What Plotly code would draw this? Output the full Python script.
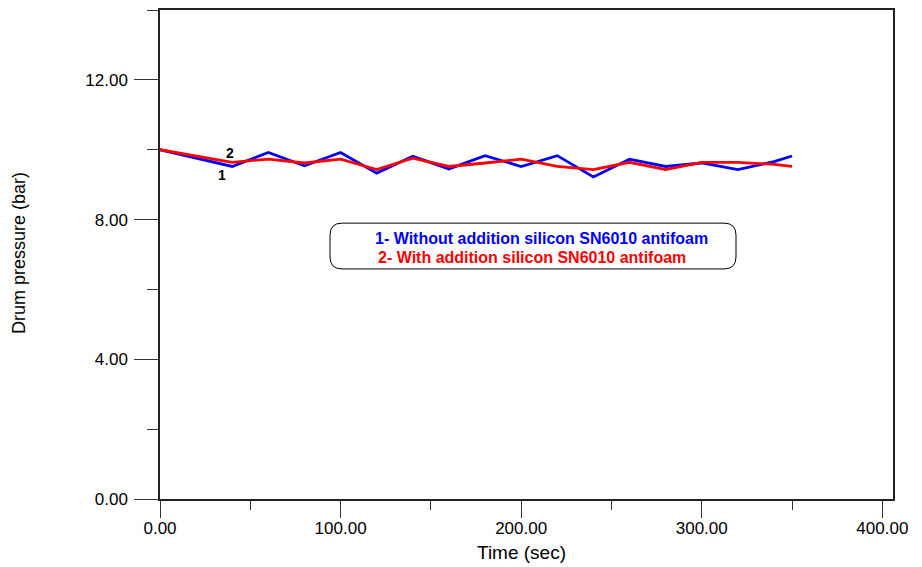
import plotly.graph_objects as go

# Data
time_s = [0, 40, 60, 80, 100, 120, 140, 160, 180, 200, 220, 240, 260, 280, 300, 320, 340, 350]
without_antifoam = [10.0, 9.52, 9.92, 9.54, 9.92, 9.33, 9.81, 9.45, 9.83, 9.52, 9.83, 9.22, 9.73, 9.52, 9.62, 9.43, 9.66, 9.82]
with_antifoam = [10.0, 9.64, 9.73, 9.62, 9.73, 9.43, 9.76, 9.52, 9.62, 9.73, 9.52, 9.43, 9.64, 9.43, 9.64, 9.64, 9.58, 9.52]

x_ticks = [0, 100, 200, 300, 400]
x_tick_text = ["0.00", "100.00", "200.00", "300.00", "400.00"]
y_ticks = [0, 4, 8, 12]
y_tick_text = ["0.00", "4.00", "8.00", "12.00"]

legend_line1 = "1- Without addition silicon SN6010 antifoam"
legend_line2 = "2- With addition silicon SN6010 antifoam"

W, H = 922, 567
ML, MR, MT, MB = 160, 29, 8, 68
plot_w = W - ML - MR
plot_h = H - MT - MB
X_MAX = 405.9
Y_MAX = 14.0

def px_to_x(px):
    return (px - ML) / plot_w * X_MAX

def py_to_y(py):
    return (H - MB - py) / plot_h * Y_MAX

fig = go.Figure()
fig.add_trace(go.Scatter(x=time_s, y=without_antifoam, mode="lines",
                         line=dict(color="#0000ff", width=2.8), showlegend=False))
fig.add_trace(go.Scatter(x=time_s, y=with_antifoam, mode="lines",
                         line=dict(color="#ff0000", width=2.8), showlegend=False))

# Rounded legend box
x0, x1 = px_to_x(330), px_to_x(736)
y0, y1 = py_to_y(268), py_to_y(222)
rx = 12 / plot_w * X_MAX
ry = 12 / plot_h * Y_MAX
path = (f"M {x0+rx},{y1} L {x1-rx},{y1} Q {x1},{y1} {x1},{y1-ry} "
        f"L {x1},{y0+ry} Q {x1},{y0} {x1-rx},{y0} L {x0+rx},{y0} "
        f"Q {x0},{y0} {x0},{y0+ry} L {x0},{y1-ry} Q {x0},{y1} {x0+rx},{y1} Z")
fig.add_shape(type="path", path=path, line=dict(color="black", width=1), xref="x", yref="y")

font_family = "Arial, Liberation Sans, sans-serif"
fig.add_annotation(x=px_to_x(541), y=py_to_y(237), text=f"<b>{legend_line1}</b>", showarrow=False,
                   font=dict(family=font_family, size=16, color="#0000ff"), xanchor="center", yanchor="middle")
fig.add_annotation(x=px_to_x(532), y=py_to_y(257), text=f"<b>{legend_line2}</b>", showarrow=False,
                   font=dict(family=font_family, size=16, color="#ff0000"), xanchor="center", yanchor="middle")

# Curve labels
fig.add_annotation(x=px_to_x(230), y=py_to_y(152), text="<b>2</b>", showarrow=False,
                   font=dict(family=font_family, size=14, color="black"))
fig.add_annotation(x=px_to_x(222), y=py_to_y(174), text="<b>1</b>", showarrow=False,
                   font=dict(family=font_family, size=14, color="black"))

# Axis titles
fig.add_annotation(xref="paper", yref="paper", x=(19 - ML) / plot_w, y=(H - MB - 252) / plot_h,
                   text="Drum pressure (bar)", textangle=-90, showarrow=False,
                   font=dict(family=font_family, size=18, color="black"),
                   xanchor="center", yanchor="middle")
fig.add_annotation(xref="paper", yref="paper", x=(521 - ML) / plot_w, y=(H - MB - 553) / plot_h,
                   text="Time (sec)", showarrow=False,
                   font=dict(family=font_family, size=19, color="black"),
                   xanchor="center", yanchor="middle")

tick_font = dict(family=font_family, size=17, color="black")
fig.update_xaxes(range=[0, X_MAX], tickmode="array", tickvals=x_ticks, ticktext=x_tick_text,
                 ticks="outside", ticklen=17, tickcolor="#333", tickwidth=1,
                 minor=dict(tickmode="array", tickvals=[50, 150, 250, 350], ticks="outside",
                            ticklen=9, tickcolor="#333", tickwidth=1),
                 showline=True, linecolor="#222", linewidth=1.5, mirror=True,
                 showgrid=False, zeroline=False, tickfont=tick_font, ticklabelstandoff=-4)
fig.update_yaxes(range=[0, Y_MAX], tickmode="array", tickvals=y_ticks, ticktext=y_tick_text,
                 ticks="outside", ticklen=24, tickcolor="#333", tickwidth=1,
                 minor=dict(tickmode="array", tickvals=[2, 6, 10, 14], ticks="outside",
                            ticklen=11, tickcolor="#333", tickwidth=1),
                 showline=True, linecolor="#222", linewidth=1.5, mirror=True,
                 showgrid=False, zeroline=False, tickfont=tick_font, ticklabelstandoff=3)

fig.update_layout(width=W, height=H, margin=dict(l=ML, r=MR, t=MT, b=MB),
                  plot_bgcolor="white", paper_bgcolor="white")
fig.write_html("out.html")
